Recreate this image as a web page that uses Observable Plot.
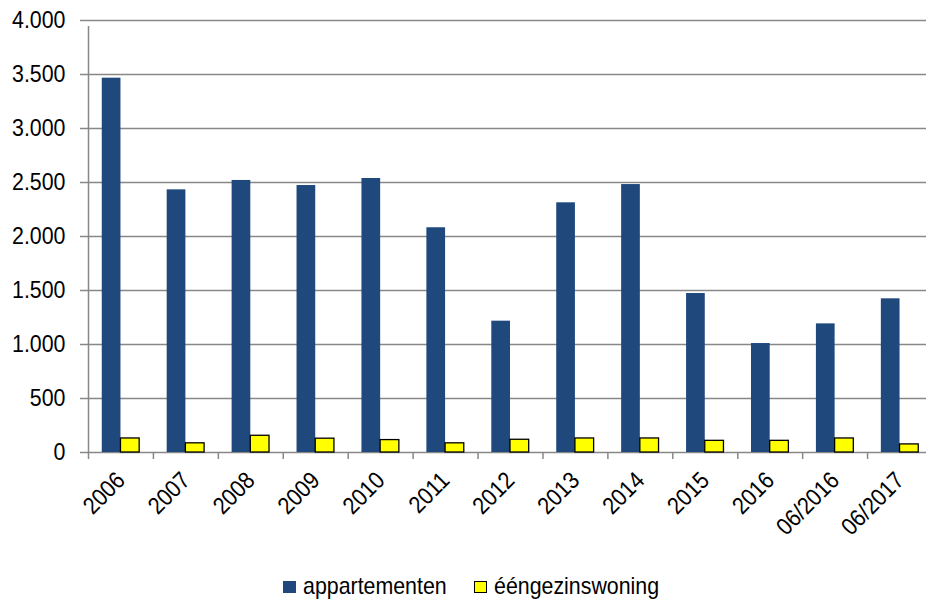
<!DOCTYPE html>
<html>
<head>
<meta charset="utf-8">
<script src="https://cdn.jsdelivr.net/npm/d3@7"></script>
<script src="https://cdn.jsdelivr.net/npm/@observablehq/plot@0.6"></script>
<style>
  html, body { margin: 0; padding: 0; background: #fff; overflow: hidden; width: 926px; height: 606px; }
  #chart { position: relative; width: 926px; height: 560px; overflow: hidden; }
  #legend { position: relative; width: 926px; height: 46px; font-family: "Liberation Sans", Arial, sans-serif; font-size: 24px; color: #000; }
  .sw { position: absolute; top: 21px; width: 13px; height: 12px; box-sizing: border-box; }
  .lt { position: absolute; top: 13px; line-height: 26px; white-space: nowrap; transform: scaleX(0.89); transform-origin: 0 50%; }
</style>
</head>
<body>
<div id="chart"></div>
<div id="legend"></div>
<script>
const years = ["2006","2007","2008","2009","2010","2011","2012","2013","2014","2015","2016","06/2016","06/2017"];
const appartementen = [3466, 2432, 2519, 2472, 2537, 2081, 1216, 2312, 2481, 1472, 1009, 1191, 1423];
const eengezinswoning = [130, 85, 155, 128, 115, 85, 118, 130, 130, 108, 108, 130, 75];
const yTicks = [0, 500, 1000, 1500, 2000, 2500, 3000, 3500, 4000];
const seriesNames = ["appartementen", "ééngezinswoning"];
const colors = ["#1F497D", "#FFFF00"];

const rows = years.map((y, i) => ({year: y, app: appartementen[i], een: eengezinswoning[i]}));

const W = 932, H = 560, mL = 88, mR = 0, mT = 20, mB = 108;
const step = (W - mL - mR) / years.length;
const half = step / 2;
const barW = 18.7;
const SQ = 0.89;

const nl = d3.formatLocale({decimal: ",", thousands: ".", grouping: [3], currency: ["€", ""]});
const fmt = nl.format(",");
const FONT = '"Liberation Sans", Arial, sans-serif';

const chart = Plot.plot({
  width: W, height: H,
  marginLeft: mL, marginRight: mR, marginTop: mT, marginBottom: mB,
  style: {fontFamily: FONT, fontSize: "24px", color: "#000", background: "#fff", maxWidth: "none", overflow: "hidden"},
  x: {type: "band", domain: years, padding: 0, round: false, label: null},
  y: {domain: [0, 4000], label: null},
  marks: [
    Plot.ruleY(yTicks, {stroke: "#888", strokeWidth: 1.5}),
    Plot.barY(rows, {x: "year", y: "app", fill: colors[0], insetLeft: half - barW, insetRight: half}),
    Plot.barY(rows, {x: "year", y: "een", fill: colors[1], stroke: "#000", strokeWidth: 1.3, insetLeft: half, insetRight: half - barW}),
    Plot.ruleX([0], {x: () => years[0], dx: -half, y1: 0, y2: 4000, stroke: "#888", strokeWidth: 1.5, insetBottom: -6}),
    Plot.axisX({tickSize: 7, tickFormat: () => "", dx: -half, stroke: "#888", strokeWidth: 1.5, tickPadding: 0, label: null}),
    Plot.axisX({tickSize: 0, tickRotate: -45, tickPadding: 24, fontSize: 24, label: null}),
    Plot.axisY({ticks: yTicks, tickSize: 8, tickPadding: 15, tickFormat: fmt, stroke: "#888", strokeWidth: 1.5, fontSize: 24, label: null})
  ]
});
// slightly condensed lettering, as in the reference
d3.select(chart).selectAll("text").each(function() {
  const t = this.getAttribute("transform");
  if (t) this.setAttribute("transform", t + ` scale(${SQ},1)`);
});
document.getElementById("chart").appendChild(chart);

const legend = document.getElementById("legend");
const items = [
  {sw: 282.5, tx: 303, fill: colors[0], border: "none"},
  {sw: 473.5, tx: 494, fill: colors[1], border: "1.3px solid #000"}
];
seriesNames.forEach((name, i) => {
  const it = items[i];
  const s = document.createElement("div");
  s.className = "sw";
  s.style.left = it.sw + "px";
  s.style.background = it.fill;
  if (it.border !== "none") s.style.border = it.border;
  legend.appendChild(s);
  const t = document.createElement("div");
  t.className = "lt";
  t.style.left = it.tx + "px";
  t.textContent = name;
  legend.appendChild(t);
});
</script>
</body>
</html>
